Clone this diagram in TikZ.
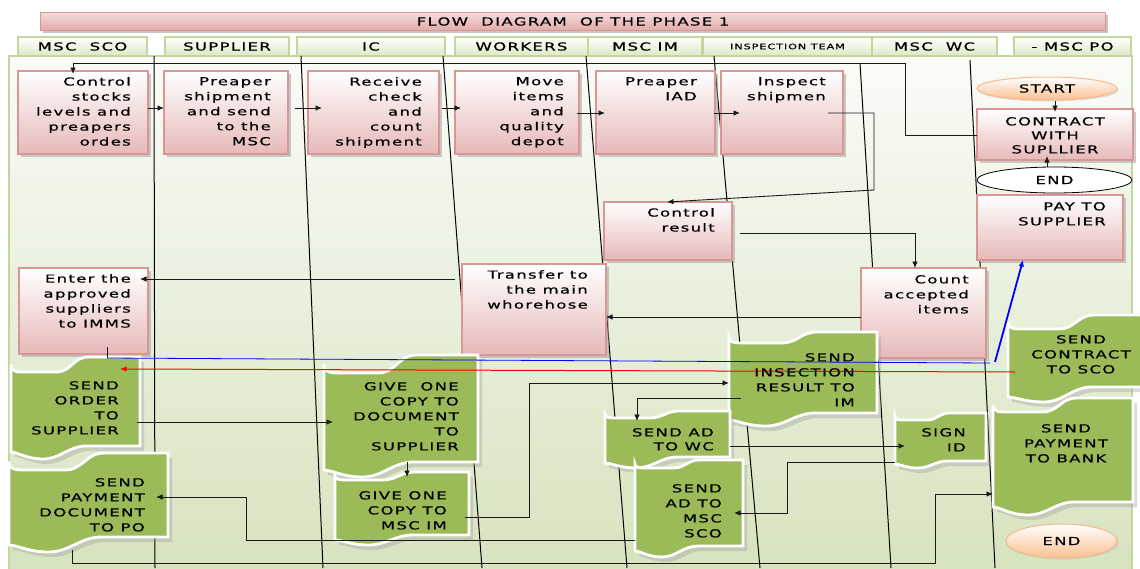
\documentclass[tikz,border=0pt]{standalone}
\usepackage{fontspec}
\newfontfamily\dfont{DejaVu Sans}[FakeStretch=1.5,LetterSpace=12,FakeBold=0.6]
\usetikzlibrary{arrows.meta,shapes.geometric,shadows,fit,calc}
\definecolor{pinkbd}{HTML}{D99694}
\definecolor{pinkbot}{HTML}{E6B9B8}
\definecolor{titletop}{HTML}{F2DCDB}
\definecolor{titlebot}{HTML}{E3AAA9}
\definecolor{tabbd}{HTML}{C3D69B}
\definecolor{tabbot}{HTML}{DCE8C6}
\definecolor{paneltop}{HTML}{FAFBF7}
\definecolor{panelbot}{HTML}{D6E3BE}
\definecolor{tgreen}{HTML}{9BBB59}
\definecolor{peachbd}{HTML}{F8B88B}
\definecolor{peachbot}{HTML}{FAC090}
\newcommand{\tp}[8]{%
 \path[#1] (#2,{#4-0.5*(#4-#5)}) .. controls (#2,#4) and ({#2+0.04*(#3-#2)},#4) .. ({#2+0.12*(#3-#2)},#4)
 -- ({#2+0.35*(#3-#2)},#4) .. controls ({#2+0.47*(#3-#2)},#4) and ({#2+0.48*(#3-#2)},#5) .. ({#2+0.6*(#3-#2)},#5)
 -- (#3,#5) -- (#3,#8) -- ({#2+0.58*(#3-#2)},#8) .. controls ({#2+0.45*(#3-#2)},#8) and ({#2+0.38*(#3-#2)},#7) .. ({#2+0.25*(#3-#2)},#7)
 .. controls ({#2+0.12*(#3-#2)},#7) and ({#2+0.05*(#3-#2)},#6) .. (#2,#6) -- cycle;}
\newcommand{\tape}[8]{%
 \tp{tshadow}{#2}{#3}{#4}{#5}{#6}{#7}{#8}%
 \tp{tfill}{#2}{#3}{#4}{#5}{#6}{#7}{#8}%
 \node[fit={(#2,#5) (#3,#8)}, inner sep=0pt, outer sep=0pt] (#1) {};}
\newcommand{\pinkbox}[5]{\node[pbox, anchor=north west, minimum width={#4-#2}, minimum height={#5-#3}] (#1) at (#2,#3) {};}
\newcommand{\lanetab}[5]{\node[tab, anchor=north west, minimum width={#3-#2}, minimum height=19, #4] (#1) at (#2,37) {#5};}
\tikzset{
 conn/.style={draw=black!90, line width=0.9pt},
 arr/.style={-{Latex[length=6.5pt,width=5.5pt]}},
 lane/.style={draw=black, line width=1pt},
 pbox/.style={draw=pinkbd, line width=1.2pt, top color=white, bottom color=pinkbot, inner sep=0pt, outer sep=0pt,
   drop shadow={shadow xshift=2.5pt, shadow yshift=-2.5pt, fill=black!40, opacity=.5}},
 tab/.style={draw=tabbd, line width=1.3pt, top color=white, bottom color=tabbot, inner sep=0pt, outer sep=0pt,
   font=\dfont\fontsize{11}{13}\selectfont},
 tshadow/.style={fill=black!40, opacity=.35, xshift=4pt, yshift=-5pt},
 tfill/.style={fill=tgreen, draw=white, line width=2.8pt},
 btxt/.style={font=\dfont\fontsize{11}{15}\selectfont, align=right, inner sep=0pt, text=black},
 peach/.style={ellipse, draw=peachbd, line width=1pt, top color=white, bottom color=peachbot, inner sep=0pt,
   font=\dfont\fontsize{11}{13}\selectfont, drop shadow={shadow xshift=1.5pt, shadow yshift=-1.5pt, fill=black!30, opacity=.4}},
}
\begin{document}
\begin{tikzpicture}[x=1pt,y=-1pt]
\useasboundingbox (0,0) rectangle (1140,568);
\fill[white] (0,0) rectangle (1140,568);
% panel
\fill[top color=paneltop, bottom color=panelbot] (9,56) rectangle (1132,575);
\draw[tabbd, line width=1.3pt] (9,575) -- (9,56) -- (1132,56) -- (1132,575);
% title
\node[anchor=north west, minimum width=1065, minimum height=18, draw=pinkbd, line width=1pt, top color=titletop, bottom color=titlebot,
  inner sep=0pt, drop shadow={shadow xshift=2pt, shadow yshift=-2pt, fill=black!45, opacity=.5},
  font=\dfont\fontsize{11}{13}\selectfont] (title) at (40,12) {FLOW~~DIAGRAM~~OF THE PHASE 1};
% lane tabs
\lanetab{tSCO}{18}{147}{}{MSC~~SCO}
\lanetab{tSUP}{165}{289}{}{SUPPLIER}
\lanetab{tIC}{297}{445}{}{IC}
\lanetab{tWOR}{455}{588}{}{WORKERS}
\lanetab{tIM}{588}{702}{}{MSC IM}
\lanetab{tINS}{703}{872}{font=\dfont\fontsize{7.5}{9}\selectfont}{INSPECTION TEAM}
\lanetab{tWC}{872}{997}{}{MSC~~WC}
\lanetab{tPO}{1014}{1131}{}{- MSC PO}
% lane separators
\draw[lane] (154,56) -- (155,568);
\draw[lane] (301,56) -- (323,568);
\draw[lane] (443,56) -- (482,568);
\draw[lane] (586,56) -- (627,568);
\draw[lane] (714,56) -- (760,568);
\draw[lane] (860,63) -- (891,568);
\draw[lane] (970,60) -- (995,568);
% pink boxes
\pinkbox{ctrl}{18}{71}{148}{154}
\pinkbox{prep}{164}{71}{288}{154}
\pinkbox{recv}{308}{71}{439}{154}
\pinkbox{move}{455}{71}{579}{154}
\pinkbox{iad}{596}{71}{715}{154}
\pinkbox{insp}{721}{71}{843}{154}
\pinkbox{contract}{977}{109}{1133}{160}
\pinkbox{pay}{977}{195}{1123}{260}
\pinkbox{ctrlres}{604}{202}{732}{260}
\pinkbox{count}{861}{268}{986}{358}
\pinkbox{transfer}{462}{264}{606}{355}
\pinkbox{enter}{19}{268}{148}{354}
% ellipses
\node[peach, minimum width=140, minimum height=23] (start) at (1047,88.5) {START};
\node[ellipse, draw=black, line width=0.8pt, fill=white, minimum width=155, minimum height=26, inner sep=0pt,
  font=\dfont\fontsize{11}{13}\selectfont] (end1) at (1054.5,180) {END};
\node[peach, minimum width=111, minimum height=34] (end2) at (1061.5,541) {END};
% green tapes
\tape{sendorder}{11}{140}{372}{357}{452}{459}{446}
\tape{senddoc}{9}{168}{470}{453}{545}{552}{537}
\tape{give1}{324}{478}{373}{355}{470}{477}{462}
\tape{give2}{335}{469}{480}{472}{540}{545}{535}
\tape{sendins}{729}{877}{343}{332}{420}{426}{413}
\tape{sendadwc}{605}{730}{418}{411}{463}{468}{457}
\tape{sendadsco}{635}{743}{468}{460}{551}{557}{546}
\tape{signid}{895}{986}{420}{413}{464}{468}{461}
\tape{sendcontract}{1008}{1152}{329}{315}{397}{402}{387}
\tape{sendbank}{993}{1133}{412}{398}{507}{515}{502}
% connectors
\draw[conn,arr] (contract.west |- 0,135) -- (905,135) -- (905,63) -- (73,63) -- ($(ctrl.north -| 73,0)+(0,3)$);
\draw[conn,arr] (ctrl.east |- 0,108) -- (prep.west |- 0,108);
\draw[conn,arr] ($(prep.east |- 0,108)+(7,0)$) -- ($(recv.west |- 0,108)+(14,0)$);
\draw[conn,arr] ($(recv.east |- 0,108)+(3,0)$) -- ($(move.west |- 0,108)+(6,0)$);
\draw[conn,arr] ($(move.east |- 0,113)+(-2,0)$) -- ($(iad.west |- 0,113)+(9,0)$);
\draw[conn,arr] ($(iad.east |- 0,113)+(-1,0)$) -- ($(insp.west |- 0,113)+(19,0)$);
\draw[conn,arr] ($(insp.east |- 0,113)+(-15,0)$) -- (874,113) -- (874,190) -- (ctrlres.north -| 667,0);
\draw[conn,arr] ($(ctrlres.east |- 0,233)+(8,0)$) -- (915,233) -- (count.north -| 915,0);
\draw[conn,arr] (count.west |- 0,317) -- (transfer.east |- 0,317);
\draw[conn,arr] ($(transfer.west |- 0,279)+(-7,0)$) -- ($(enter.east |- 0,279)+(-8,0)$);
\draw[conn] ($(enter.south -| 107,0)+(0,-7)$) -- (107,358);
\draw[blue, line width=0.8pt] (107,358) -- (990,363);
\draw[blue, line width=1.8pt, arr] (995,362) -- (pay.south -| 1023,0);
\draw[red, line width=1pt, arr] ($(sendcontract.west |- 0,372)+(7,0)$) -- ($(sendorder.east |- 0,369)+(-20,0)$);
\draw[conn,arr] ($(sendorder.east |- 0,422)+(-3,0)$) -- ($(give1.west |- 0,422)+(9,0)$);
\draw[conn,arr] (give1.south -| 407,0) -- ($(give2.north -| 407,0)+(0,5)$);
\draw[conn,arr] ($(give2.east |- 0,517)+(-4,0)$) -- (529,517) -- (529,383) -- (sendins.west |- 0,383);
\draw[conn,arr] ($(sendins.west |- 0,398)+(12,0)$) -- (637,398) -- ($(sendadwc.north -| 637,0)+(0,10)$);
\draw[conn,arr] (sendadwc.east |- 0,446) -- ($(signid.west |- 0,446)+(10,0)$);
\draw[conn,arr] (signid.west |- 0,462) -- (787,462) -- (787,513) -- ($(sendadsco.east |- 0,513)+(-9,0)$);
\draw[conn,arr] (sendadsco.west |- 0,540) -- (246,540) -- (246,497) -- ($(senddoc.east |- 0,497)+(-12,0)$);
\draw[conn,arr] ($(senddoc.south -| 72,0)+(0,13)$) -- (72,563) -- (935,563) -- (935,494) -- (sendbank.west |- 0,494);
\draw[conn,arr] (start.south -| 1055,0) -- ($(contract.north -| 1055,0)+(0,3)$);
\draw[conn,arr] (end1.north -| 1047,0) -- ($(contract.south -| 1047,0)+(0,-4)$);
% texts
\node[btxt, anchor=north east] (ctrlT) at (131,77) {Control\\stocks\\levels and\\preapers\\ordes};
\node[btxt, anchor=north east] (prepT) at (271,77) {Preaper\\shipment\\and send\\to the\\MSC};
\node[btxt, anchor=north east] (recvT) at (422,77) {Receive\\check\\and\\count\\shipment};
\node[btxt, anchor=north east] (moveT) at (564,77) {Move\\items\\and\\quality\\depot};
\node[btxt, anchor=north east] (iadT) at (697,77) {Preaper\\IAD};
\node[btxt, anchor=north east] (inspT) at (826,77) {Inspect\\shipmen};
\node[btxt, align=center, anchor=north, font=\dfont\fontsize{11}{14}\selectfont] (contractT) at (1055,117) {CONTRACT\\WITH\\SUPLLIER};
\node[btxt, anchor=north east] (payT) at (1106,202) {PAY TO\\SUPPLIER};
\node[btxt, anchor=north east] (ctrlresT) at (715,208) {Control\\result};
\node[btxt, anchor=north east] (countT) at (969,275) {Count\\accepted\\items};
\node[btxt, anchor=north east] (transferT) at (588,270) {Transfer to\\the main\\whorehose};
\node[btxt, anchor=north east] (enterT) at (131,274) {Enter the\\approved\\suppliers\\to IMMS};
\node[btxt, anchor=north east] (sendorderT) at (119,381) {SEND\\ORDER\\TO\\SUPPLIER};
\node[btxt, anchor=north east] (senddocT) at (145,478) {SEND\\PAYMENT\\DOCUMENT\\TO PO};
\node[btxt, anchor=north east] (give1T) at (459,382) {GIVE~~ONE\\COPY TO\\DOCUMENT\\TO\\SUPPLIER};
\node[btxt, anchor=north east] (give2T) at (447,491) {GIVE ONE\\COPY TO\\MSC IM};
\node[btxt, anchor=north east] (sendinsT) at (855,353) {SEND\\INSECTION\\RESULT TO\\IM};
\node[btxt, anchor=north east, font=\dfont\fontsize{11}{14}\selectfont] (sendadwcT) at (714,428) {SEND AD\\TO WC};
\node[btxt, anchor=north east] (sendadscoT) at (722,484) {SEND\\AD TO\\MSC\\SCO};
\node[btxt, anchor=north east] (signidT) at (966,428) {SIGN\\ID};
\node[btxt, align=center, anchor=north] (sendcontractT) at (1081,335) {SEND\\CONTRACT\\TO SCO};
\node[btxt, align=center, anchor=north] (sendbankT) at (1066,424) {SEND\\PAYMENT\\TO BANK};
\end{tikzpicture}
\end{document}
